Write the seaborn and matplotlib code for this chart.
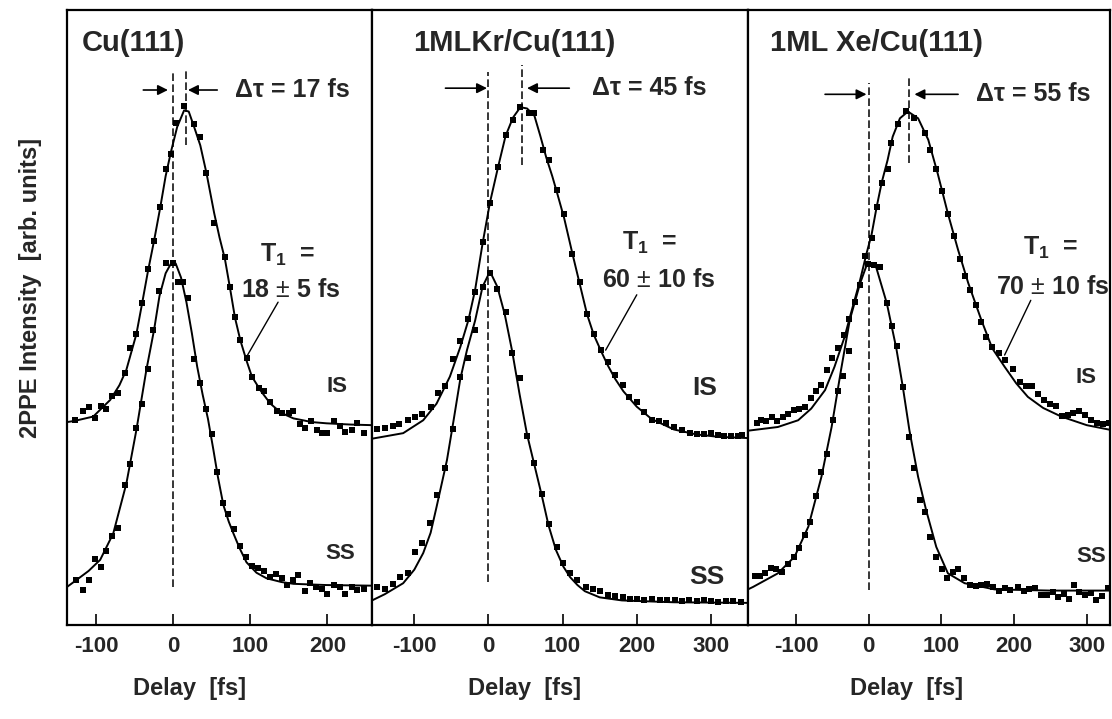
import seaborn as sns
import matplotlib.pyplot as plt
import pandas as pd
import numpy as np

sns.set_style("white")
plt.rcParams['font.family'] = ['Liberation Sans', 'DejaVu Sans']
plt.rcParams['mathtext.fontset'] = 'custom'
plt.rcParams['mathtext.rm'] = 'Liberation Sans'
plt.rcParams['mathtext.bf'] = 'Liberation Sans:bold'
plt.rcParams['axes.unicode_minus'] = False

# ---------------- data (delay in fs, 2PPE signal in arb. units) ----------------
# Cu(111)
cu_is_t = [-128, -117, -109, -102, -94, -87, -79, -72, -63, -56, -48, -41, -33, -25, -17,
           -10, -3, 4, 14, 27, 35, 43, 53, 67, 74, 80, 87, 95, 102, 111, 118, 126, 134,
           141, 150, 156, 164, 171, 179, 186, 193, 199, 209, 216, 223, 232, 239, 247]
cu_is_y = [3.34, 3.48, 3.55, 3.36, 3.56, 3.52, 3.72, 3.78, 4.10, 4.50, 4.73, 5.23, 5.79,
           6.25, 6.79, 7.41, 7.66, 8.16, 8.44, 8.15, 7.93, 7.35, 6.54, 5.98, 5.50, 5.01,
           4.63, 4.34, 4.04, 3.85, 3.81, 3.63, 3.48, 3.45, 3.44, 3.48, 3.27, 3.20, 3.32,
           3.17, 3.13, 3.13, 3.31, 3.24, 3.14, 3.17, 3.28, 3.12]
cu_ss_t = [-126, -117, -109, -102, -94, -87, -79, -72, -63, -56, -48, -41, -33, -26, -18,
           -10, -1, 6, 13, 19, 27, 35, 42, 50, 57, 64, 71, 79, 87, 94, 102, 110, 118, 126,
           133, 141, 148, 156, 162, 171, 178, 185, 193, 199, 209, 216, 223, 232, 239, 247]
cu_ss_y = [0.73, 0.57, 0.73, 1.07, 0.94, 1.21, 1.44, 1.57, 2.28, 2.62, 3.20, 3.60, 4.17,
           4.80, 5.43, 5.88, 5.88, 5.57, 5.58, 5.31, 4.32, 3.93, 3.51, 3.11, 2.49, 1.99,
           1.80, 1.56, 1.28, 1.10, 0.96, 0.92, 0.88, 0.78, 0.83, 0.76, 0.65, 0.74, 0.81,
           0.56, 0.68, 0.62, 0.58, 0.50, 0.65, 0.62, 0.50, 0.62, 0.57, 0.58]
cu_is_fit_t = [-138, -128, -104, -82, -70, -61, -48, -41, -33, -25, -17, -10, -3, 5, 14,
               20, 27, 35, 43, 53, 60, 67, 74, 80, 87, 95, 102, 114, 126, 140, 156, 180,
               199, 230, 258]
cu_is_fit_y = [3.30, 3.32, 3.39, 3.66, 3.90, 4.15, 4.73, 5.20, 5.75, 6.25, 6.79, 7.30,
               7.70, 8.10, 8.37, 8.35, 8.10, 7.80, 7.35, 6.70, 6.30, 5.95, 5.45, 5.00,
               4.63, 4.30, 4.04, 3.80, 3.60, 3.45, 3.36, 3.30, 3.28, 3.26, 3.25]
cu_ss_fit_t = [-138, -126, -110, -95, -78, -61, -48, -35, -25, -18, -10, -3, 3, 10, 17,
               24, 31, 38, 45, 52, 58, 65, 72, 78, 86, 95, 108, 121, 140, 156, 199, 258]
cu_ss_fit_y = [0.62, 0.73, 0.88, 1.06, 1.49, 2.30, 3.17, 4.15, 4.80, 5.35, 5.72, 5.88,
               5.88, 5.65, 5.25, 4.75, 4.20, 3.75, 3.35, 2.85, 2.40, 1.95, 1.68, 1.49,
               1.25, 1.02, 0.85, 0.76, 0.70, 0.67, 0.65, 0.64]

# 1ML Kr/Cu(111)
kr_is_t = [-150, -140, -129, -120, -109, -99, -89, -78, -68, -58, -48, -38, -27, -18, -8,
           2, 13, 23, 33, 43, 55, 62, 73, 81, 92, 102, 113, 123, 133, 142, 152, 161, 171,
           182, 190, 200, 210, 221, 230, 240, 250, 261, 272, 281, 290, 300, 309, 318, 327,
           336, 342]
kr_is_y = [3.18, 3.20, 3.24, 3.27, 3.33, 3.39, 3.43, 3.55, 3.78, 3.89, 4.32, 4.62, 4.97,
           5.42, 6.23, 6.87, 7.45, 7.97, 8.21, 8.42, 8.32, 8.32, 7.72, 7.57, 7.08, 6.68,
           6.04, 5.57, 5.05, 4.73, 4.48, 4.28, 4.07, 3.90, 3.70, 3.62, 3.47, 3.34, 3.31,
           3.28, 3.22, 3.17, 3.13, 3.11, 3.11, 3.13, 3.09, 3.07, 3.07, 3.07, 3.09]
kr_ss_t = [-150, -140, -129, -119, -109, -99, -89, -79, -69, -58, -48, -38, -27, -18, -8,
           2, 12, 23, 32, 42, 52, 62, 72, 81, 92, 101, 110, 120, 131, 141, 151, 161, 171,
           182, 191, 200, 210, 221, 231, 241, 251, 261, 271, 281, 291, 300, 310, 320, 330,
           340]
kr_ss_y = [0.62, 0.58, 0.67, 0.78, 0.85, 1.19, 1.34, 1.66, 2.11, 2.55, 3.18, 4.04, 4.35,
           4.80, 5.49, 5.72, 5.46, 5.09, 4.42, 4.01, 3.07, 2.64, 2.13, 1.64, 1.27, 1.01,
           0.85, 0.74, 0.62, 0.58, 0.56, 0.49, 0.47, 0.45, 0.43, 0.42, 0.41, 0.42, 0.41,
           0.40, 0.40, 0.39, 0.40, 0.39, 0.40, 0.39, 0.38, 0.39, 0.39, 0.38]
kr_is_fit_t = [-157, -115, -88, -70, -52, -38, -27, -18, -8, 2, 13, 23, 33, 43, 52, 62,
               70, 78, 86, 92, 102, 113, 123, 133, 142, 152, 161, 171, 182, 200, 220,
               250, 280, 310, 350]
kr_is_fit_y = [3.03, 3.12, 3.33, 3.60, 4.04, 4.52, 4.96, 5.45, 6.20, 6.87, 7.45, 7.95,
               8.25, 8.42, 8.40, 8.28, 7.95, 7.60, 7.30, 7.05, 6.62, 6.05, 5.55, 5.05,
               4.72, 4.45, 4.22, 4.00, 3.80, 3.55, 3.35, 3.18, 3.10, 3.06, 3.04]
kr_ss_fit_t = [-157, -140, -115, -100, -88, -78, -70, -63, -56, -47, -38, -29, -18, -8,
               2, 12, 22, 32, 42, 52, 62, 72, 81, 91, 101, 110, 120, 130, 150, 180, 250, 350]
kr_ss_fit_y = [0.40, 0.50, 0.68, 0.90, 1.17, 1.50, 1.92, 2.30, 2.68, 3.33, 4.00, 4.47,
               4.95, 5.50, 5.75, 5.50, 5.05, 4.45, 3.75, 3.10, 2.60, 2.10, 1.62, 1.22,
               0.95, 0.78, 0.65, 0.55, 0.45, 0.40, 0.37, 0.36]

# 1ML Xe/Cu(111)
xe_is_t = [-154, -148, -141, -133, -126, -118, -111, -103, -96, -88, -80, -72, -65, -58,
           -50, -42, -34, -27, -19, -12, -5, 4, 11, 18, 26, 31, 40, 52, 63, 77, 85, 93, 101,
           109, 117, 126, 133, 140, 148, 155, 162, 170, 179, 187, 199, 208, 217, 225, 233,
           241, 249, 258, 266, 274, 281, 290, 298, 306, 314, 322, 330]
xe_is_y = [3.28, 3.33, 3.31, 3.38, 3.31, 3.38, 3.43, 3.50, 3.52, 3.54, 3.69, 3.81, 3.90,
           4.15, 4.34, 4.50, 4.72, 4.97, 5.26, 5.53, 6.00, 6.30, 6.80, 7.19, 7.41, 7.84,
           8.15, 8.36, 8.25, 8.00, 7.72, 7.42, 7.05, 6.68, 6.32, 5.95, 5.68, 5.45, 5.20,
           4.92, 4.68, 4.52, 4.42, 4.31, 4.16, 3.96, 3.89, 3.89, 3.76, 3.66, 3.60, 3.56,
           3.40, 3.41, 3.45, 3.48, 3.41, 3.34, 3.29, 3.27, 3.29]
xe_ss_t = [-157, -150, -143, -135, -127, -119, -111, -103, -96, -88, -81, -73, -65, -57,
           -49, -42, -36, -27, -1, 8, 15, 25, 32, 39, 47, 55, 63, 70, 78, 85, 93, 101, 108,
           116, 123, 131, 139, 147, 155, 163, 171, 179, 187, 195, 206, 214, 221, 229, 237,
           246, 253, 261, 269, 276, 283, 290, 298, 306, 313, 321, 329]
xe_ss_y = [0.80, 0.80, 0.84, 0.92, 0.91, 0.87, 0.99, 1.10, 1.25, 1.46, 1.68, 2.09, 2.49,
           2.78, 3.33, 3.80, 4.05, 4.46, 5.87, 5.85, 5.83, 5.23, 4.86, 4.53, 3.87, 3.06,
           2.55, 2.04, 1.83, 1.43, 1.10, 0.91, 0.76, 0.87, 0.91, 0.76, 0.65, 0.63, 0.65,
           0.67, 0.62, 0.56, 0.60, 0.57, 0.62, 0.56, 0.58, 0.60, 0.49, 0.49, 0.53, 0.46,
           0.50, 0.43, 0.65, 0.54, 0.49, 0.52, 0.41, 0.47, 0.60]
xe_is_fit_t = [-166, -125, -97, -79, -60, -47, -33, -26, -12, -3, 4, 11, 18, 26, 33, 43,
               54, 68, 82, 95, 109, 123, 137, 155, 170, 187, 203, 219, 240, 265, 300, 334]
xe_is_fit_y = [3.16, 3.22, 3.33, 3.52, 3.82, 4.20, 4.69, 5.00, 5.60, 6.04, 6.35, 6.80,
               7.20, 7.56, 7.94, 8.24, 8.35, 8.24, 7.89, 7.34, 6.69, 6.10, 5.56, 4.96,
               4.50, 4.20, 3.93, 3.71, 3.53, 3.39, 3.25, 3.17]
xe_ss_fit_t = [-166, -159, -125, -102, -83, -65, -51, -38, -26, -12, -1, 10, 25, 38, 47,
               56, 68, 79, 93, 109, 132, 173, 250, 334]
xe_ss_fit_y = [0.58, 0.62, 0.84, 1.11, 1.60, 2.41, 3.22, 4.15, 4.96, 5.55, 5.91, 5.83,
               5.23, 4.50, 3.87, 3.17, 2.41, 1.87, 1.27, 0.84, 0.68, 0.58, 0.56, 0.56]

titles = ["Cu(111)", "1MLKr/Cu(111)", "1ML Xe/Cu(111)"]
delta_tau = [17, 45, 55]
t1_text = ["18 $\\pm$ 5 fs", "60 $\\pm$ 10 fs", "70 $\\pm$ 10 fs"]
ticks = [[-100, 0, 100, 200], [-100, 0, 100, 200, 300], [-100, 0, 100, 200, 300]]

series = [
    (cu_is_t, cu_is_y, cu_ss_t, cu_ss_y, cu_is_fit_t, cu_is_fit_y, cu_ss_fit_t, cu_ss_fit_y),
    (kr_is_t, kr_is_y, kr_ss_t, kr_ss_y, kr_is_fit_t, kr_is_fit_y, kr_ss_fit_t, kr_ss_fit_y),
    (xe_is_t, xe_is_y, xe_ss_t, xe_ss_y, xe_is_fit_t, xe_is_fit_y, xe_ss_fit_t, xe_ss_fit_y),
]

# ---------------- layout of each panel ----------------
layout = [
    dict(xlim=(-138, 258), title_x=0.049, dlt_x=80, dlt_y=8.70, arr_l=(-39, -7), arr_r=(57, 19),
         dash0=(0.62, 9.02), dash1=(7.80, 9.02), t1=(148, 6.02), t1v=(152, 5.45),
         lead=((136, 5.25), (95, 4.36)), is_pos=(212, 3.88), ss_pos=(217, 1.17), lab_fs=16,
         xlab=0.403),
    dict(xlim=(-157, 350), title_x=0.109, dlt_x=140, dlt_y=8.73, arr_l=(-58, -2), arr_r=(109, 52),
         dash0=(0.70, 8.99), dash1=(7.48, 9.10), t1=(218, 6.21), t1v=(229, 5.61),
         lead=((200, 5.37), (158, 4.47)), is_pos=(292, 3.85), ss_pos=(295, 0.78), lab_fs=19,
         xlab=0.407),
    dict(xlim=(-166, 332), title_x=0.061, dlt_x=148, dlt_y=8.63, arr_l=(-60, -3), arr_r=(123, 63),
         dash0=(0.57, 8.81), dash1=(7.51, 8.94), t1=(250, 6.13), t1v=(253, 5.50),
         lead=((223, 5.28), (187, 4.39)), is_pos=(299, 4.03), ss_pos=(306, 1.11), lab_fs=16,
         xlab=0.439),
]

fig = plt.figure(figsize=(11.12, 7.19), dpi=100)
gs = fig.add_gridspec(1, 3, width_ratios=[305, 376, 362], left=0.0603, right=0.9982,
                      top=0.986, bottom=0.1307, wspace=0)

arrow_kw = dict(arrowstyle='-|>', color='black', lw=1.2, mutation_scale=15,
                shrinkA=0, shrinkB=0)

for i, (data, lay) in enumerate(zip(series, layout)):
    ax = fig.add_subplot(gs[0, i])
    is_t, is_y, ss_t, ss_y, isf_t, isf_y, ssf_t, ssf_y = data

    pts = pd.concat([
        pd.DataFrame({"delay": is_t, "signal": is_y, "state": "IS"}),
        pd.DataFrame({"delay": ss_t, "signal": ss_y, "state": "SS"}),
    ])
    fits = pd.concat([
        pd.DataFrame({"delay": isf_t, "signal": isf_y, "state": "IS"}),
        pd.DataFrame({"delay": ssf_t, "signal": ssf_y, "state": "SS"}),
    ])

    sns.lineplot(data=fits, x="delay", y="signal", units="state", estimator=None,
                 color="black", lw=1.4, ax=ax, legend=False)
    sns.scatterplot(data=pts, x="delay", y="signal", marker="s", color="black",
                    s=24, linewidth=0, ax=ax, legend=False, zorder=3)

    # dashed guides at zero delay and at the IS shift
    dash = dict(colors='black', linestyles=(0, (5, 2.2)), linewidth=1.1)
    ax.vlines(0, *lay["dash0"], **dash)
    ax.vlines(delta_tau[i], *lay["dash1"], **dash)

    ax.annotate("", xy=(lay["arr_l"][1], lay["dlt_y"]), xytext=(lay["arr_l"][0], lay["dlt_y"]),
                arrowprops=arrow_kw)
    ax.annotate("", xy=(lay["arr_r"][1], lay["dlt_y"]), xytext=(lay["arr_r"][0], lay["dlt_y"]),
                arrowprops=arrow_kw)
    ax.text(lay["dlt_x"], lay["dlt_y"], f"Δτ = {delta_tau[i]} fs", fontsize=18,
            fontweight='bold', ha='left', va='center')

    ax.text(lay["title_x"], 0.946, titles[i], transform=ax.transAxes, fontsize=21,
            fontweight='bold', ha='left', va='center')

    ax.text(*lay["t1"], "T$_\\mathbf{1}$  =", fontsize=18, fontweight='bold',
            ha='center', va='center')
    ax.text(*lay["t1v"], t1_text[i], fontsize=18, fontweight='bold',
            ha='center', va='center')
    (x0, y0), (x1, y1) = lay["lead"]
    ax.plot([x0, x1], [y0, y1], color='black', lw=1.0)

    ax.text(*lay["is_pos"], "IS", fontsize=lay["lab_fs"], fontweight='bold',
            ha='center', va='center')
    ax.text(*lay["ss_pos"], "SS", fontsize=lay["lab_fs"], fontweight='bold',
            ha='center', va='center')

    ax.set_xlim(*lay["xlim"])
    ax.set_ylim(0, 10)
    ax.set_yticks([])
    ax.set_ylabel("")
    ax.set_xticks(ticks[i])
    ax.set_xticklabels([str(t) for t in ticks[i]], fontsize=16, fontweight='bold')
    ax.tick_params(axis='x', direction='in', length=8, width=1.4, pad=8, bottom=True)
    ax.set_xlabel("Delay  [fs]", fontsize=17, fontweight='bold')
    ax.xaxis.set_label_coords(lay["xlab"], -0.085)
    for sp in ax.spines.values():
        sp.set_linewidth(1.6)
        sp.set_color('black')

fig.text(0.027, 0.60, "2PPE Intensity  [arb. units]", rotation=90, ha='center',
         va='center', fontsize=17, fontweight='bold')

plt.savefig("out.png", dpi=100)
plt.close(fig)
